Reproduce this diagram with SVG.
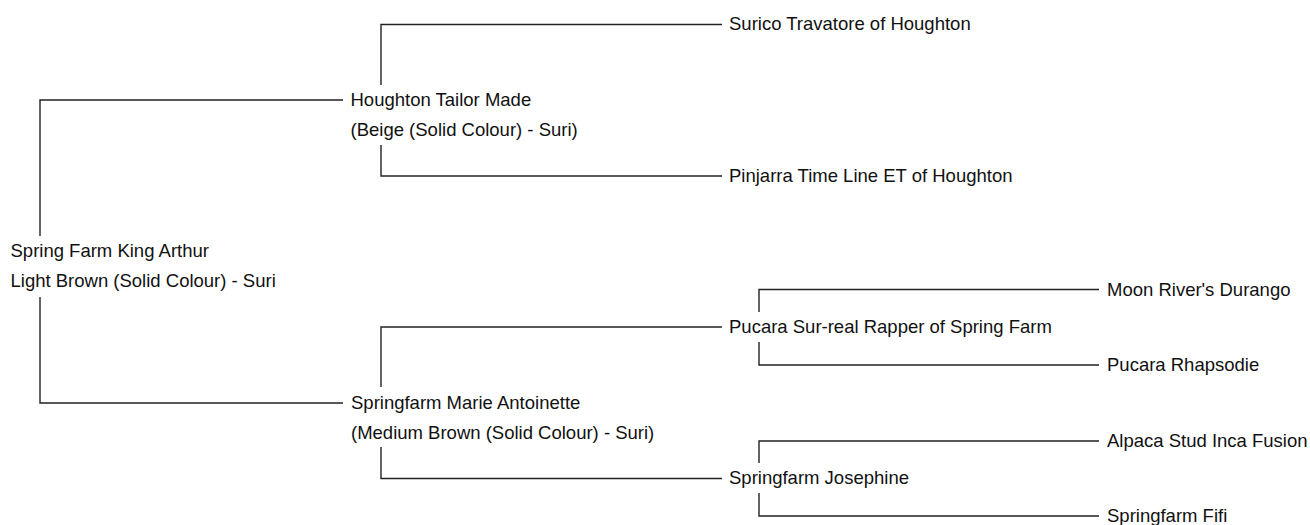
<svg xmlns="http://www.w3.org/2000/svg" width="1310" height="525" viewBox="0 0 1310 525">
<style>
  .c { fill: none; stroke: #222; stroke-width: 1.4; }
  text { font-family: "Liberation Sans", Arial, sans-serif; font-size: 18.5px; fill: #111; }
</style>
<rect width="1310" height="525" fill="#fff"/>
<g id="connectors">
  <path class="c" d="M343,100 H40 V236 M40,297 V403 H343"/>
  <path class="c" d="M381,85 V24.5 H722 M381,145 V176 H722"/>
  <path class="c" d="M381,387 V327 H722 M381,447 V478.5 H722"/>
  <path class="c" d="M759,312 V289.5 H1099 M759,342 V365 H1099"/>
  <path class="c" d="M759,463 V441 H1099 M759,493 V516 H1099"/>
</g>
<g id="n-root">
  <text x="10.5" y="257">Spring Farm King Arthur</text>
  <text x="10.5" y="287">Light Brown (Solid Colour) - Suri</text>
</g>
<g id="n-houghton-tailor">
  <text x="350.5" y="106">Houghton Tailor Made</text>
  <text x="350.5" y="136">(Beige (Solid Colour) - Suri)</text>
</g>
<g id="n-surico"><text x="729" y="30">Surico Travatore of Houghton</text></g>
<g id="n-pinjarra"><text x="729" y="182">Pinjarra Time Line ET of Houghton</text></g>
<g id="n-marie">
  <text x="351" y="408.5">Springfarm Marie Antoinette</text>
  <text x="351" y="439">(Medium Brown (Solid Colour) - Suri)</text>
</g>
<g id="n-pucara"><text x="729" y="333">Pucara Sur-real Rapper of Spring Farm</text></g>
<g id="n-moon"><text x="1107" y="295.5">Moon River's Durango</text></g>
<g id="n-rhapsodie"><text x="1107" y="371">Pucara Rhapsodie</text></g>
<g id="n-josephine"><text x="729" y="484">Springfarm Josephine</text></g>
<g id="n-alpaca"><text x="1107" y="447">Alpaca Stud Inca Fusion</text></g>
<g id="n-fifi"><text x="1107" y="522">Springfarm Fifi</text></g>
</svg>
